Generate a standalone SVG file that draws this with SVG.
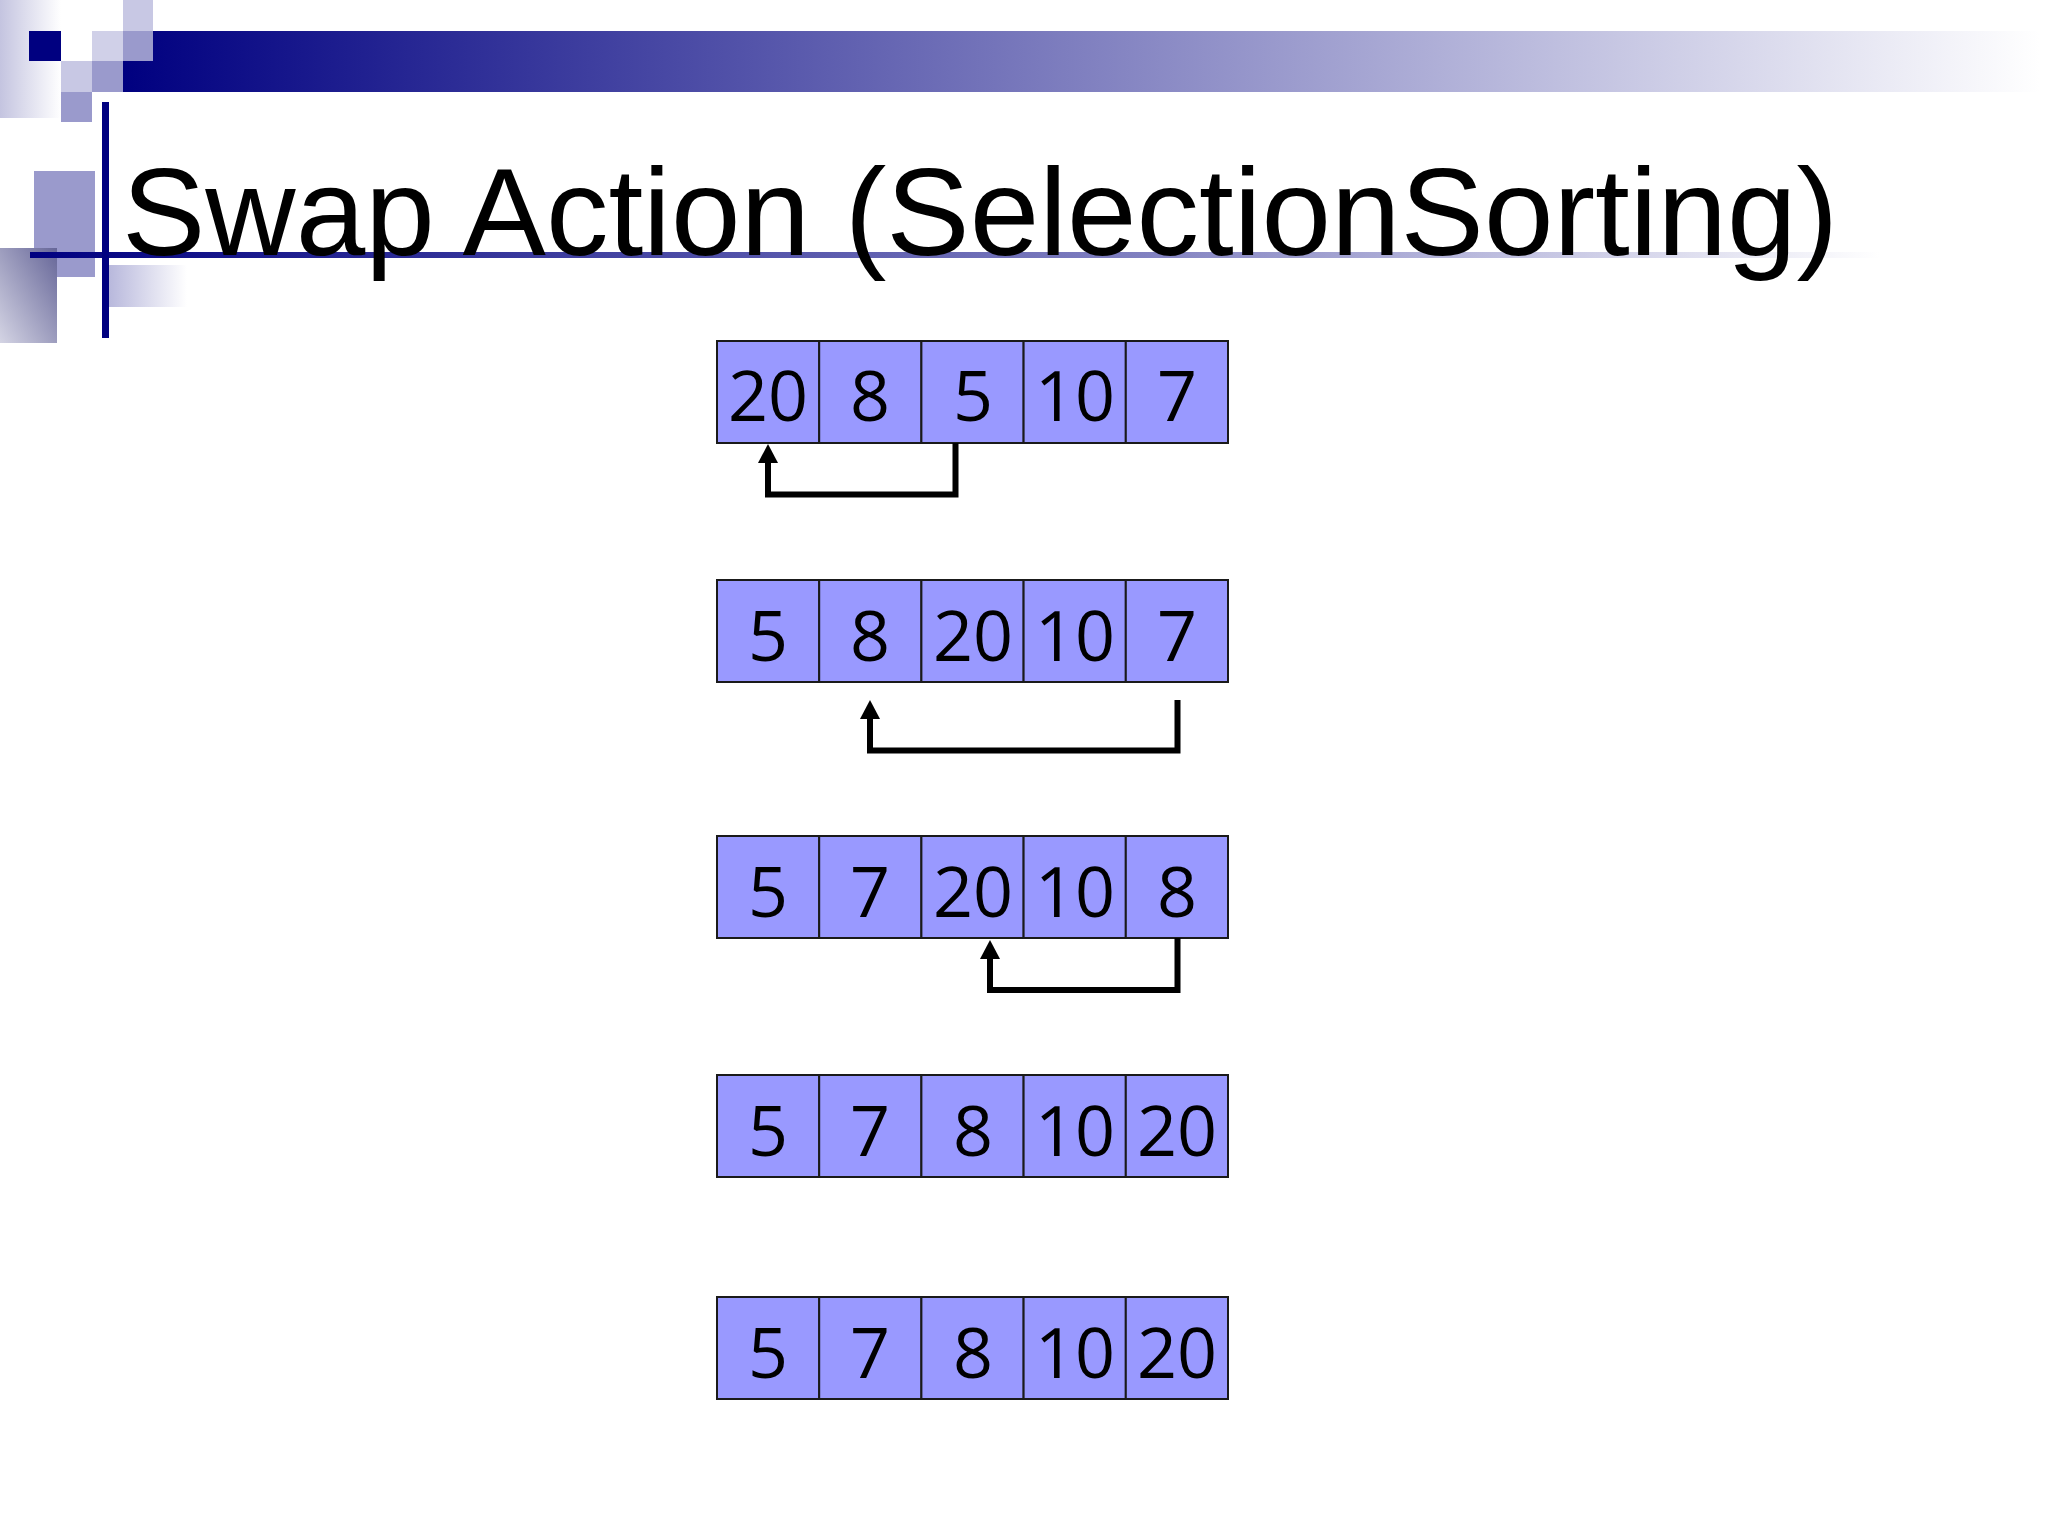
<svg xmlns="http://www.w3.org/2000/svg" width="2048" height="1536" viewBox="0 0 2048 1536">
<defs>
<linearGradient id="gBar" gradientUnits="userSpaceOnUse" x1="123" y1="0" x2="2040" y2="0">
<stop offset="0" stop-color="#000080"/>
<stop offset="1" stop-color="#ffffff"/>
</linearGradient>
<linearGradient id="gLine" gradientUnits="userSpaceOnUse" x1="30" y1="0" x2="1880" y2="0">
<stop offset="0" stop-color="#000080"/>
<stop offset="0.6" stop-color="#8080c0"/>
<stop offset="1" stop-color="#ffffff"/>
</linearGradient>
<linearGradient id="gLeft" x1="0" y1="0" x2="1" y2="0">
<stop offset="0" stop-color="#c4c4e0"/>
<stop offset="1" stop-color="#ffffff"/>
</linearGradient>
<linearGradient id="gSmall" x1="0" y1="0" x2="1" y2="0">
<stop offset="0" stop-color="#b8b8dc"/>
<stop offset="1" stop-color="#ffffff"/>
</linearGradient>
<linearGradient id="gCorner" x1="1" y1="0" x2="0" y2="1">
<stop offset="0" stop-color="#666698"/>
<stop offset="1" stop-color="#d4d4e4"/>
</linearGradient>
<marker id="arr" markerUnits="userSpaceOnUse" markerWidth="19" markerHeight="20" refX="0" refY="10" orient="auto">
<path d="M0,0 L19,10 L0,20 z" fill="#000"/>
</marker>
<style>
.cell{fill:#9999ff;stroke:#1a1a1a;stroke-width:2}
.num{font-family:"Open Sans","Noto Sans",sans-serif;font-size:70px;fill:#000;text-anchor:middle}
.title{font-family:"Liberation Sans",Arial,sans-serif;font-size:125px;fill:#000}
.conn{fill:none;stroke:#000;stroke-width:6;stroke-linejoin:miter;stroke-linecap:butt}
.lt{fill:#c8c8e4}
.md{fill:#9a9acc}
</style>
</defs>
<rect width="2048" height="1536" fill="#ffffff"/>
<g id="decoration">
<rect x="0" y="0" width="61" height="118" fill="url(#gLeft)"/>
<rect x="123" y="31" width="1917" height="61" fill="url(#gBar)"/>
<rect x="29" y="31" width="32" height="30" fill="#000080"/>
<rect class="lt" x="123" y="0" width="30" height="31"/>
<rect x="92" y="31" width="31" height="30" fill="#d0d0e8"/>
<rect class="md" x="123" y="31" width="30" height="30"/>
<rect class="lt" x="61" y="61" width="31" height="31"/>
<rect class="md" x="92" y="61" width="31" height="31"/>
<rect class="md" x="61" y="92" width="31" height="30"/>
<rect class="md" x="34" y="171" width="61" height="106"/>
<rect x="0" y="248" width="57" height="95" fill="url(#gCorner)"/>
<rect x="109" y="265" width="78" height="42" fill="url(#gSmall)"/>
<rect x="30" y="252" width="1850" height="6" fill="url(#gLine)"/>
<rect x="102" y="102" width="7" height="236" fill="#000080"/>
</g>
<g id="title">
<text class="title" x="122" y="255">Swap Action (SelectionSorting)</text>
</g>
<g id="row1">
<rect class="cell" x="717" y="341" width="102.2" height="102"/>
<rect class="cell" x="819.2" y="341" width="102.2" height="102"/>
<rect class="cell" x="921.4" y="341" width="102.2" height="102"/>
<rect class="cell" x="1023.6" y="341" width="102.2" height="102"/>
<rect class="cell" x="1125.8" y="341" width="102.2" height="102"/>
<text class="num" x="768" y="421">20</text>
<text class="num" x="870" y="421">8</text>
<text class="num" x="973" y="421">5</text>
<text class="num" x="1075" y="421">10</text>
<text class="num" x="1177" y="421">7</text>
</g>
<g id="row2">
<rect class="cell" x="717" y="580" width="102.2" height="102"/>
<rect class="cell" x="819.2" y="580" width="102.2" height="102"/>
<rect class="cell" x="921.4" y="580" width="102.2" height="102"/>
<rect class="cell" x="1023.6" y="580" width="102.2" height="102"/>
<rect class="cell" x="1125.8" y="580" width="102.2" height="102"/>
<text class="num" x="768" y="661">5</text>
<text class="num" x="870" y="661">8</text>
<text class="num" x="973" y="661">20</text>
<text class="num" x="1075" y="661">10</text>
<text class="num" x="1177" y="661">7</text>
</g>
<g id="row3">
<rect class="cell" x="717" y="836" width="102.2" height="102"/>
<rect class="cell" x="819.2" y="836" width="102.2" height="102"/>
<rect class="cell" x="921.4" y="836" width="102.2" height="102"/>
<rect class="cell" x="1023.6" y="836" width="102.2" height="102"/>
<rect class="cell" x="1125.8" y="836" width="102.2" height="102"/>
<text class="num" x="768" y="917">5</text>
<text class="num" x="870" y="917">7</text>
<text class="num" x="973" y="917">20</text>
<text class="num" x="1075" y="917">10</text>
<text class="num" x="1177" y="917">8</text>
</g>
<g id="row4">
<rect class="cell" x="717" y="1075" width="102.2" height="102"/>
<rect class="cell" x="819.2" y="1075" width="102.2" height="102"/>
<rect class="cell" x="921.4" y="1075" width="102.2" height="102"/>
<rect class="cell" x="1023.6" y="1075" width="102.2" height="102"/>
<rect class="cell" x="1125.8" y="1075" width="102.2" height="102"/>
<text class="num" x="768" y="1156">5</text>
<text class="num" x="870" y="1156">7</text>
<text class="num" x="973" y="1156">8</text>
<text class="num" x="1075" y="1156">10</text>
<text class="num" x="1177" y="1156">20</text>
</g>
<g id="row5">
<rect class="cell" x="717" y="1297" width="102.2" height="102"/>
<rect class="cell" x="819.2" y="1297" width="102.2" height="102"/>
<rect class="cell" x="921.4" y="1297" width="102.2" height="102"/>
<rect class="cell" x="1023.6" y="1297" width="102.2" height="102"/>
<rect class="cell" x="1125.8" y="1297" width="102.2" height="102"/>
<text class="num" x="768" y="1378">5</text>
<text class="num" x="870" y="1378">7</text>
<text class="num" x="973" y="1378">8</text>
<text class="num" x="1075" y="1378">10</text>
<text class="num" x="1177" y="1378">20</text>
</g>
<g id="connectors">
<path class="conn" d="M955.5,443 V494.5 H768 V463" marker-end="url(#arr)"/>
<path class="conn" d="M1177.5,700 V750.5 H870 V719" marker-end="url(#arr)"/>
<path class="conn" d="M1177.5,938 V990 H990 V959" marker-end="url(#arr)"/>
</g>
</svg>
